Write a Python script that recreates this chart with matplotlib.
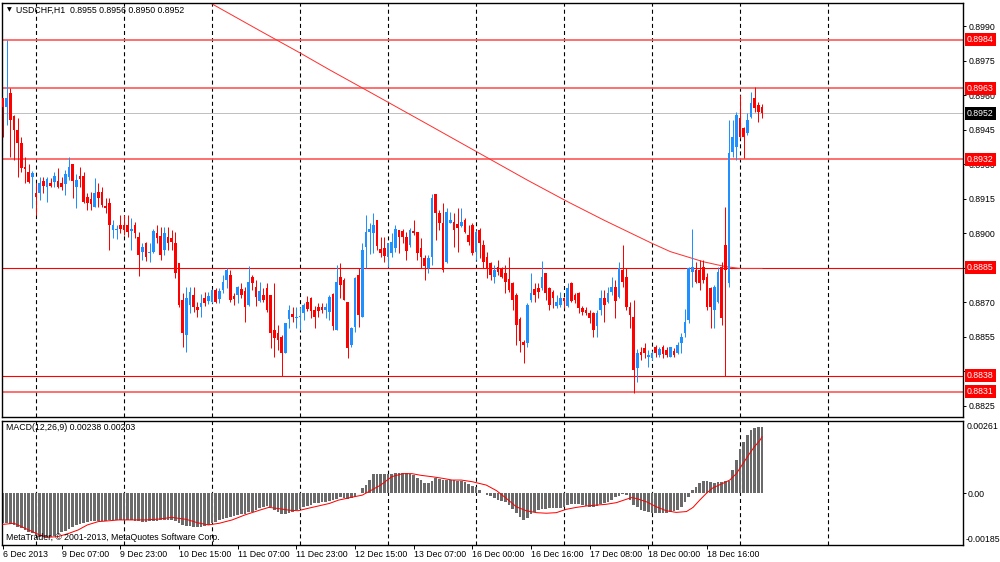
import matplotlib
matplotlib.use('Agg')
import matplotlib.pyplot as plt
from matplotlib.transforms import blended_transform_factory
import numpy as np

plt.rcParams['font.family'] = ['Liberation Sans', 'DejaVu Sans']
plt.rcParams['lines.scale_dashes'] = False

# ---------------- data (prices in pips, /10000) ----------------
opens = [
    8958.5, 8954.9, 8960.7, 8950.9, 8945.0, 8939.0, 8928.8, 8926.7, 8924.5, 8917.2,
    8917.5, 8922.7, 8919.9, 8921.9, 8922.3, 8922.7, 8921.9, 8921.3, 8924.5, 8930.0,
    8919.9, 8924.8, 8924.8, 8915.8, 8914.9, 8911.5, 8918.0, 8918.0, 8911.9, 8912.9,
    8901.3, 8901.3, 8903.5, 8903.5, 8903.5, 8900.9, 8903.5, 8898.1, 8891.9, 8895.5,
    8891.4, 8891.9, 8899.9, 8898.8, 8892.6, 8898.4, 8897.7, 8895.5, 8886.8, 8870.9,
    8855.6, 8868.7, 8873.0, 8868.0, 8867.7, 8871.6, 8870.6, 8870.1, 8875.2, 8871.3,
    8875.2, 8879.6, 8881.7, 8872.6, 8873.0, 8875.6, 8874.8, 8868.7, 8881.0, 8876.7,
    8870.6, 8873.0, 8876.0, 8873.0, 8857.8, 8856.4, 8854.9, 8847.7, 8862.5, 8864.8,
    8862.9, 8863.3, 8865.1, 8870.1, 8871.6, 8866.5, 8868.0, 8868.0, 8866.5, 8865.8,
    8873.5, 8857.8, 8881.0, 8879.6, 8870.1, 8851.3, 8859.3, 8881.7, 8863.6, 8894.1,
    8900.6, 8899.8, 8905.6, 8892.9, 8893.3, 8889.7, 8891.1, 8893.3, 8901.3, 8900.9,
    8898.4, 8894.8, 8901.0, 8900.3, 8893.3, 8889.0, 8884.6, 8889.7, 8916.9, 8908.5,
    8904.2, 8887.5, 8904.5, 8904.9, 8903.9, 8903.0, 8905.6, 8899.1, 8903.5, 8891.9,
    8901.3, 8894.8, 8889.7, 8886.8, 8881.0, 8885.3, 8884.6, 8882.4, 8879.8, 8878.1,
    8873.0, 8862.5, 8852.8, 8852.0, 8870.9, 8875.5, 8876.0, 8876.0, 8882.4, 8876.0,
    8874.5, 8868.2, 8868.7, 8871.6, 8868.2, 8878.1, 8873.0, 8873.8, 8867.3, 8866.5,
    8865.1, 8865.1, 8859.6, 8866.5, 8871.6, 8870.1, 8874.5, 8876.7, 8872.3, 8883.9,
    8881.0, 8868.0, 8863.6, 8841.2, 8848.4, 8849.9, 8846.2, 8845.5, 8850.3, 8847.0,
    8850.6, 8849.1, 8846.2, 8848.8, 8847.7, 8852.0, 8856.4, 8862.2, 8883.2, 8883.9,
    8883.9, 8885.4, 8881.0, 8875.9, 8866.5, 8870.1, 8885.4, 8894.8, 8878.1, 8935.4,
    8937.5, 8949.9, 8945.5, 8943.3, 8950.6, 8958.5, 8955.6, 8955.0]

highs = [
    8958.5, 8983.9, 8962.9, 8951.5, 8950.0, 8941.9, 8933.2, 8930.0, 8927.1, 8921.6,
    8924.5, 8924.5, 8924.5, 8923.8, 8926.7, 8928.1, 8924.5, 8927.4, 8933.2, 8930.0,
    8925.7, 8928.8, 8926.7, 8917.2, 8918.0, 8923.8, 8921.6, 8920.1, 8915.1, 8915.1,
    8905.7, 8903.5, 8907.8, 8907.8, 8907.8, 8906.4, 8904.9, 8900.6, 8895.5, 8895.9,
    8895.5, 8901.7, 8903.5, 8902.8, 8902.8, 8902.8, 8901.3, 8900.6, 8886.8, 8873.8,
    8876.7, 8876.7, 8876.6, 8870.1, 8873.5, 8874.5, 8874.5, 8875.5, 8876.0, 8876.0,
    8881.7, 8884.6, 8883.9, 8873.8, 8877.0, 8878.1, 8876.7, 8885.6, 8881.7, 8879.6,
    8878.8, 8876.0, 8878.1, 8873.0, 8878.1, 8860.0, 8855.6, 8861.0, 8868.7, 8868.0,
    8867.7, 8868.0, 8869.4, 8872.6, 8872.3, 8868.2, 8869.4, 8869.7, 8869.7, 8873.0,
    8873.8, 8886.1, 8886.8, 8880.3, 8870.1, 8859.3, 8880.7, 8884.6, 8895.5, 8907.8,
    8904.2, 8908.5, 8905.6, 8898.4, 8898.4, 8895.8, 8899.8, 8903.5, 8901.3, 8901.6,
    8900.6, 8902.0, 8905.6, 8900.6, 8897.7, 8890.4, 8890.4, 8916.9, 8916.9, 8910.0,
    8912.9, 8910.7, 8909.3, 8908.5, 8910.7, 8910.7, 8906.4, 8903.5, 8904.2, 8901.3,
    8902.0, 8896.9, 8891.9, 8887.5, 8886.1, 8888.3, 8885.3, 8886.1, 8889.7, 8878.8,
    8873.8, 8863.6, 8853.5, 8869.4, 8882.4, 8878.1, 8878.1, 8888.0, 8882.4, 8876.7,
    8875.2, 8873.0, 8874.5, 8872.0, 8878.1, 8878.8, 8873.8, 8874.5, 8868.3, 8868.0,
    8866.5, 8865.8, 8866.5, 8875.2, 8875.2, 8876.7, 8881.0, 8879.6, 8887.5, 8894.8,
    8884.6, 8870.1, 8870.9, 8849.4, 8850.6, 8852.0, 8849.1, 8848.8, 8851.3, 8850.6,
    8851.3, 8850.6, 8850.6, 8849.9, 8852.7, 8856.4, 8866.8, 8885.4, 8901.6, 8887.5,
    8888.3, 8888.3, 8882.5, 8876.7, 8877.4, 8885.4, 8887.5, 8911.4, 8949.1, 8949.1,
    8952.8, 8960.0, 8946.2, 8952.0, 8961.4, 8963.3, 8957.1, 8956.0]

lows = [
    8941.9, 8947.0, 8933.2, 8931.7, 8924.5, 8926.7, 8921.6, 8921.6, 8910.7, 8907.8,
    8914.3, 8917.2, 8913.6, 8919.9, 8920.1, 8919.4, 8918.7, 8916.5, 8923.0, 8915.1,
    8910.7, 8920.1, 8912.9, 8910.0, 8910.0, 8911.5, 8911.5, 8911.5, 8908.6, 8892.6,
    8897.7, 8897.4, 8899.9, 8899.1, 8898.4, 8892.6, 8897.7, 8881.4, 8888.3, 8888.0,
    8887.5, 8891.2, 8895.5, 8888.3, 8890.4, 8892.6, 8892.6, 8880.3, 8868.0, 8850.6,
    8848.4, 8865.1, 8865.8, 8863.6, 8863.3, 8868.2, 8869.1, 8869.4, 8869.4, 8869.4,
    8873.8, 8876.0, 8870.1, 8868.7, 8869.4, 8871.6, 8861.4, 8868.2, 8875.2, 8868.2,
    8870.1, 8870.1, 8865.8, 8849.8, 8846.2, 8849.1, 8837.8, 8847.7, 8858.5, 8861.4,
    8858.5, 8857.8, 8862.2, 8866.1, 8862.9, 8858.5, 8863.3, 8865.1, 8862.9, 8862.2,
    8857.8, 8857.8, 8871.6, 8870.9, 8845.5, 8850.6, 8857.1, 8859.3, 8863.6, 8884.6,
    8890.9, 8891.1, 8892.6, 8889.7, 8887.5, 8885.1, 8889.7, 8891.9, 8891.4, 8895.5,
    8888.3, 8894.1, 8899.1, 8888.3, 8884.6, 8879.6, 8882.4, 8886.1, 8896.9, 8901.3,
    8883.2, 8887.1, 8904.2, 8894.1, 8891.9, 8902.8, 8899.8, 8894.8, 8890.4, 8888.3,
    8889.0, 8884.6, 8880.3, 8879.6, 8878.1, 8881.7, 8880.3, 8873.8, 8874.5, 8866.5,
    8851.3, 8848.4, 8843.3, 8850.6, 8870.1, 8870.1, 8871.6, 8875.2, 8870.9, 8866.5,
    8867.2, 8867.2, 8867.7, 8867.2, 8868.0, 8870.1, 8869.4, 8865.1, 8864.3, 8864.3,
    8860.7, 8854.6, 8854.6, 8864.3, 8861.4, 8869.4, 8873.0, 8862.9, 8871.6, 8876.7,
    8866.5, 8858.5, 8830.6, 8835.4, 8844.8, 8845.5, 8841.9, 8844.8, 8846.2, 8846.2,
    8845.5, 8846.2, 8846.2, 8846.2, 8847.4, 8847.7, 8854.9, 8860.7, 8876.7, 8878.1,
    8875.2, 8878.1, 8866.5, 8858.5, 8858.5, 8869.4, 8860.0, 8837.8, 8876.7, 8933.2,
    8931.7, 8941.2, 8932.5, 8942.6, 8949.9, 8952.8, 8948.4, 8950.0]

closes = [
    8954.6, 8958.5, 8949.1, 8944.8, 8939.0, 8928.1, 8927.7, 8922.3, 8926.0, 8915.5,
    8921.6, 8920.6, 8923.5, 8920.4, 8924.8, 8919.9, 8919.9, 8925.7, 8928.5, 8922.7,
    8923.0, 8923.3, 8913.6, 8912.9, 8912.6, 8917.2, 8915.1, 8912.2, 8910.7, 8903.5,
    8903.5, 8901.7, 8901.6, 8901.3, 8900.6, 8901.7, 8899.9, 8890.4, 8893.8, 8889.7,
    8891.7, 8900.9, 8897.7, 8890.4, 8899.9, 8895.5, 8896.2, 8882.5, 8868.7, 8856.4,
    8871.6, 8874.5, 8868.0, 8866.5, 8869.7, 8869.7, 8872.6, 8875.2, 8870.1, 8874.8,
    8878.8, 8883.9, 8870.9, 8871.1, 8876.7, 8873.0, 8868.0, 8878.8, 8878.1, 8872.3,
    8874.8, 8870.9, 8866.5, 8856.4, 8854.5, 8853.5, 8847.7, 8860.7, 8866.5, 8863.3,
    8863.3, 8863.6, 8868.7, 8866.8, 8866.1, 8863.6, 8866.2, 8866.5, 8868.0, 8872.3,
    8859.5, 8878.8, 8877.4, 8870.9, 8849.8, 8858.5, 8880.3, 8864.3, 8892.6, 8900.6,
    8901.6, 8903.5, 8894.3, 8891.4, 8890.0, 8895.5, 8896.2, 8901.6, 8898.4, 8898.1,
    8892.1, 8901.3, 8900.1, 8891.4, 8889.7, 8885.6, 8889.0, 8915.1, 8908.5, 8904.2,
    8883.9, 8909.3, 8905.6, 8901.3, 8902.0, 8904.9, 8900.6, 8896.2, 8891.1, 8900.6,
    8895.5, 8887.5, 8884.2, 8881.7, 8883.9, 8883.2, 8881.0, 8878.8, 8875.2, 8870.9,
    8860.0, 8853.2, 8851.3, 8868.7, 8873.8, 8873.0, 8874.5, 8881.0, 8873.8, 8868.7,
    8871.6, 8870.1, 8871.6, 8870.6, 8876.0, 8870.6, 8870.9, 8867.3, 8865.8, 8865.1,
    8862.9, 8857.8, 8865.1, 8871.6, 8868.7, 8873.8, 8876.7, 8870.6, 8884.6, 8878.8,
    8868.0, 8864.3, 8840.4, 8848.0, 8847.0, 8847.7, 8847.0, 8848.0, 8847.7, 8849.4,
    8847.4, 8847.0, 8850.6, 8847.0, 8851.3, 8854.9, 8861.4, 8884.6, 8885.4, 8878.8,
    8878.1, 8879.6, 8868.0, 8868.0, 8876.7, 8883.2, 8862.9, 8883.9, 8934.6, 8941.9,
    8951.3, 8941.9, 8941.9, 8949.1, 8956.7, 8954.2, 8952.5, 8952.0]

# moving average line (bar index, price in pips)
ma_idx = [56, 70, 81, 89, 100, 116, 130, 143, 154, 164, 177, 182, 191, 197, 201, 207]
ma_val = [9000.5, 8988.0, 8978.3, 8971.0, 8961.3, 8947.1, 8934.6, 8923.0, 8913.6,
          8905.5, 8895.5, 8891.9, 8887.5, 8885.4, 8884.6, 8884.6]

# horizontal levels
red_levels = [8984, 8963, 8932, 8885, 8838, 8831]
bid_level = 8952

# MACD histogram (units of 1e-5)
macd_hist = [
    -105, -107, -109, -113, -119, -125, -131, -137, -143, -149,
    -155, -157, -157, -155, -152, -146, -139, -133, -126, -120,
    -114, -109, -105, -102, -100, -99, -99, -98, -98, -97,
    -96, -95, -95, -95, -96, -97, -98, -100, -101, -101,
    -100, -99, -99, -97, -95, -95, -95, -98, -106, -113,
    -117, -118, -119, -119, -119, -116, -113, -107, -101, -96,
    -93, -89, -85, -81, -78, -75, -72, -68, -65, -60,
    -54, -50, -44, -50, -60, -68, -74, -72, -69, -65,
    -60, -55, -50, -45, -41, -36, -34, -32, -30, -27,
    -24, -21, -14, -18, -21, -15, -12, 2, 18, 30,
    50, 69, 70, 71, 71, 71, 71, 73, 75, 75,
    74, 71, 65, 56, 48, 38, 36, 45, 54, 52,
    50, 48, 48, 48, 46, 44, 42, 33, 26, 24,
    14, 0, -5, -10, -18, -24, -28, -32, -42, -55,
    -70, -83, -95, -88, -75, -66, -60, -57, -55, -54,
    -54, -54, -52, -48, -42, -39, -38, -39, -42, -45,
    -48, -50, -44, -38, -34, -30, -23, -14, -8, -2,
    -6, -25, -40, -50, -58, -64, -67, -71, -71, -71,
    -71, -69, -66, -62, -58, -48, -30, -12, 12, 24,
    36, 43, 44, 42, 38, 40, 42, 44, 44, 83,
    119, 161, 184, 208, 226, 236, 237, 238]

# MACD signal line (bar index, units of 1e-5)
sig_idx = [0, 3, 6, 10, 12.5, 15, 18, 20.5, 23, 26, 29, 31.5, 35, 39, 42.5, 46, 50, 53,
           56, 59, 62.5, 66, 70, 72.5, 75, 78, 80.5, 83, 86, 89, 91.5, 95, 98, 100.5,
           103, 106, 109, 111.5, 114, 117, 120, 122.5, 125, 128, 131.8, 134.6, 137.3,
           140, 142.7, 145.5, 148.2, 150.9, 153.6, 156.4, 159.1, 161.8, 164.5, 167.3,
           170, 171.4, 172.7, 175.5, 178.2, 180.9, 183.6, 186.4, 188.2, 190, 191.8,
           193.6, 196.3, 198.2, 200, 201.8, 203.6, 204.9, 206.4, 207]
sig_val = [-111, -107, -125, -149, -157, -155, -143, -131, -113, -101, -98, -95, -95, -95,
           -92, -86, -93, -105, -113, -107, -95, -77, -60, -50, -54, -60, -62, -54, -45,
           -36, -24, -14, -6, 12, 30, 60, 71, 71, 65, 60, 54, 48, 48, 42, 30, 10, -18,
           -48, -62, -69, -71, -69, -57, -50, -45, -42, -39, -33, -21, -15, -18, -30,
           -48, -62, -68, -65, -50, -24, 0, 20, 36, 48, 71, 107, 143, 167, 190, 203]

# axis labels
price_ticks = [8825, 8840, 8855, 8870, 8885, 8900, 8915, 8930, 8945, 8960, 8975, 8990]
date_pos = [0, 16, 32, 48, 64, 80, 96, 112, 128, 144, 160, 176, 192]
date_labels = ['6 Dec 2013', '9 Dec 07:00', '9 Dec 23:00', '10 Dec 15:00', '11 Dec 07:00',
               '11 Dec 23:00', '12 Dec 15:00', '13 Dec 07:00', '16 Dec 00:00',
               '16 Dec 16:00', '17 Dec 08:00', '18 Dec 00:00', '18 Dec 16:00']
grid_pos = [9, 33, 57, 81, 105, 129, 153, 177, 201, 225]

title = 'USDCHF,H1  0.8955 0.8956 0.8950 0.8952'
macd_title = 'MACD(12,26,9) 0.00238 0.00203'
credit = 'MetaTrader, \u00a9 2001-2013, MetaQuotes Software Corp.'

# ---------------- drawing ----------------
W, H = 1000, 562
fig = plt.figure(figsize=(W / 100, H / 100), dpi=100)
fig.patch.set_facecolor('white')


def px_rect(l, t, r, b):
    return [l / W, 1 - b / H, (r - l) / W, (b - t) / H]


ax = fig.add_axes(px_rect(1.5, 3, 963.3, 417.3))
axm = fig.add_axes(px_rect(1.5, 420.7, 963.3, 545))

FS = 6.3
XL = (-0.41, 261.9)
PX = 0.72  # one pixel in points

o = np.array(opens) / 1e4
h = np.array(highs) / 1e4
l = np.array(lows) / 1e4
c = np.array(closes) / 1e4
N = len(c)
idx = np.arange(N)

for a in (ax, axm):
    a.set_xlim(*XL)
    for s in a.spines.values():
        s.set_color('black')
        s.set_linewidth(1.0)
    for g in grid_pos:
        a.axvline(g, color='black', lw=PX * 1.1, dashes=(2.9, 2.2), zorder=0.5)

ax.set_ylim(0.881987, 0.900000)

# horizontal levels
for lv in red_levels:
    if lv in (8885, 8838):
        ax.axhline(lv / 1e4, color='#ff0000', lw=PX * 1.1, zorder=1)
    else:
        ax.axhline(lv / 1e4, color='#ff5a5a', lw=PX * 1.7, zorder=1)
ax.axhline(bid_level / 1e4, color='#c0c0c0', lw=PX, zorder=1)

# moving average
ax.plot(ma_idx, np.array(ma_val) / 1e4, color='#ff3030', lw=PX * 1.0, zorder=1.5)

# candles
up = c >= o
cols = np.where(up, '#1e90ff', '#ff0000')
ax.vlines(idx, l, h, colors=cols, lw=PX * 1.0, zorder=2)
bot = np.minimum(o, c)
bh = np.maximum(np.abs(c - o), 0.00005)
ax.bar(idx, bh, bottom=bot, width=0.78, color=cols, linewidth=0, zorder=3)

# right price scale
ax.yaxis.tick_right()
ax.set_yticks([t / 1e4 for t in price_ticks])
ax.set_yticklabels(['%.4f' % (t / 1e4) for t in price_ticks])
ax.tick_params(axis='y', right=True, left=False, length=2.5, width=0.7,
               pad=1.5, labelsize=FS, colors='black')
ax.set_xticks([])

tr = blended_transform_factory(ax.transAxes, ax.transData)
for lv in red_levels:
    ax.text(1.0038, lv / 1e4, '%.4f' % (lv / 1e4), transform=tr, ha='left', va='center',
            fontsize=FS, color='white', clip_on=False, zorder=10,
            bbox=dict(boxstyle='square,pad=0.22', fc='#ff0000', ec='none'))
ax.text(1.0038, bid_level / 1e4, '%.4f' % (bid_level / 1e4), transform=tr, ha='left',
        va='center', fontsize=FS, color='white', clip_on=False, zorder=10,
        bbox=dict(boxstyle='square,pad=0.22', fc='black', ec='none'))

# MACD panel
axm.set_ylim(-0.00185, 0.00261)
axm.bar(idx, np.array(macd_hist) * 1e-5, width=0.66, color='#6a6a6a', linewidth=0, zorder=2)
axm.plot(sig_idx, np.array(sig_val) * 1e-5, color='#ff0000', lw=PX * 1.0, zorder=3)
axm.yaxis.tick_right()
axm.set_yticks([0.0])
axm.set_yticklabels(['0.00'])
axm.tick_params(axis='y', right=True, left=False, length=2.0, width=0.7, pad=1.2,
                labelsize=FS)
fig.text(966.5 / W, 1 - 426.7 / H, '0.00261', ha='left', va='center', fontsize=FS)
fig.text(966.0 / W, 1 - 539.3 / H, '-0.00185', ha='left', va='center', fontsize=FS)

axm.set_xticks(date_pos)
axm.set_xticklabels(date_labels)
axm.tick_params(axis='x', length=3, width=0.7, pad=0.6, labelsize=FS, direction='out')
for t in axm.get_xticklabels():
    t.set_horizontalalignment('left')

# texts
fig.text(7 / W, 1 - 10 / H, '\u25bc', fontsize=4.5, family='DejaVu Sans',
         ha='left', va='center')
fig.text(16 / W, 1 - 10 / H, title, fontsize=FS, ha='left', va='center')
fig.text(6 / W, 1 - 428 / H, macd_title, fontsize=FS, ha='left', va='center')
fig.text(6 / W, 1 - 538 / H, credit, fontsize=FS, ha='left', va='center')

fig.savefig('out.png', dpi=100, facecolor='white')
